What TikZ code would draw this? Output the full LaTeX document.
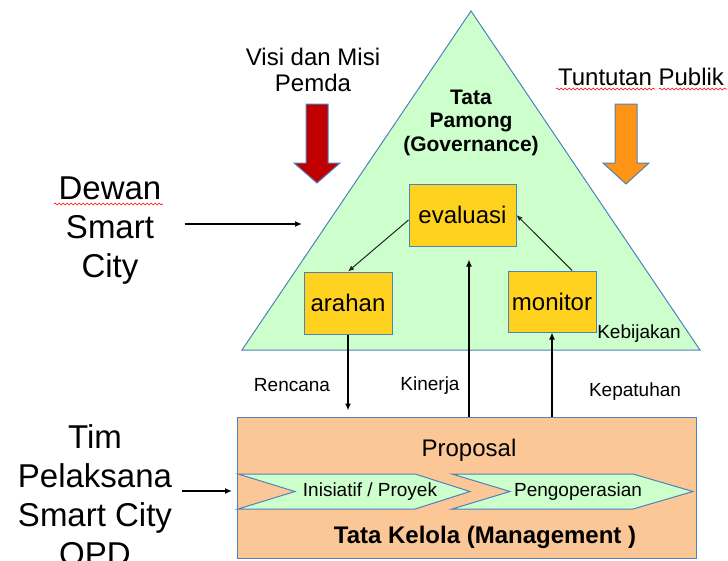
\documentclass[tikz,border=0pt]{standalone}
\usepackage{fontspec}
\setmainfont{Liberation Sans}
\usetikzlibrary{arrows.meta, positioning, decorations.pathmorphing}
\definecolor{tpgreen}{RGB}{204, 255, 204}
\definecolor{tpblue}{RGB}{79, 129, 189}
\definecolor{tpyellow}{RGB}{255, 210, 32}
\definecolor{tkpeach}{RGB}{252, 199, 150}
\definecolor{tpred}{RGB}{192, 0, 0}
\definecolor{tporange}{RGB}{255, 147, 20}

\begin{document}
\begin{tikzpicture}[x=1pt, y=-1pt, every node/.style={inner sep=0pt},
  ybox/.style={draw=tpblue, line width=1pt, fill=tpyellow, font=\fontsize{24}{28}\selectfont},
  chev/.style={draw=tpblue, line width=1pt, fill=tpgreen},
  flow/.style={-{Latex[length=7pt, width=6pt]}, line width=1.7pt},
  thinflow/.style={-{Latex[length=6pt, width=5pt]}, line width=1pt, black!85},
  lbl/.style={font=\fontsize{19}{22}\selectfont},
  bigtxt/.style={align=center, font=\fontsize{33}{39}\selectfont},
  spell/.style={red, line width=0.6pt, decorate, decoration={snake, amplitude=0.9pt, segment length=4pt}}]
  \useasboundingbox (0,0) rectangle (728,560);

  % Governance triangle
  \draw[tpblue, line width=1pt, fill=tpgreen] (471,11) -- (700,350) -- (242,350) -- cycle;
  \node[align=center, font=\fontsize{21}{23.5}\selectfont\bfseries] (pamong) at (471,122.5) {Tata\\Pamong\\(Governance)};
  \node[lbl] (kebijakan) at (639,334) {Kebijakan};

  % Inputs from above
  \node[align=center, font=\fontsize{24}{26.5}\selectfont] (visi) at (313,70) {Visi dan Misi\\Pemda};
  \draw[tpblue, line width=1pt, fill=tpred]
    (306,104) -- (328,104) -- (328,163) -- (340,163) -- (317,183) -- (294,163) -- (306,163) -- cycle;
  \node[font=\fontsize{24}{28}\selectfont] (tuntutan) at (641,77) {Tuntutan Publik};
  \draw[tpblue, line width=1pt, fill=tporange]
    (615,104) -- (637,104) -- (637,163) -- (649,163) -- (626,184) -- (603,163) -- (615,163) -- cycle;
  \draw[spell] (556,89) -- (655,89);
  \draw[spell] (659,89) -- (727,89);

  % Boxes inside the triangle
  \node[ybox, minimum width=107pt, minimum height=62pt] (evaluasi) at (462.5,215) {evaluasi};
  \node[ybox, minimum width=88pt, minimum height=62pt] (arahan) at (348,303) {arahan};
  \node[ybox, minimum width=88pt, minimum height=61pt] (monitor) at (552,301.5) {monitor};
  \draw[thinflow] ([yshift=-5pt]evaluasi.west) -- (arahan.north);
  \draw[thinflow] (monitor.57) -- (evaluasi.east);

  % Management box
  \node[draw=tpblue, line width=1pt, fill=tkpeach, minimum width=459pt, minimum height=141pt] (mgmt) at (466.5,487.5) {};
  \node[font=\fontsize{24}{28}\selectfont] (proposal) at (469,450) {Proposal};
  \draw[chev] (238,474) -- (415,474) -- (470,491.5) -- (415,509) -- (238,509) -- (295,491.5) -- cycle;
  \draw[chev] (452,474) -- (633,474) -- (693,491.5) -- (633,509) -- (452,509) -- (510,491.5) -- cycle;
  \node[lbl] (inisiatif) at (370,492) {Inisiatif / Proyek};
  \node[lbl] (operasi) at (578,492) {Pengoperasian};
  \node[font=\fontsize{24}{28}\selectfont\bfseries] (kelola) at (485,537) {Tata Kelola (Management )};

  % Flows between the two levels
  \draw[flow, shorten >=6pt] (arahan.south) -- (arahan.south |- mgmt.north);
  \draw[flow, shorten >=13pt] ([xshift=2.5pt]mgmt.north) -- ([xshift=6.5pt]evaluasi.south);
  \draw[flow] (monitor.south |- mgmt.north) -- (monitor.south);
  \node[lbl] (rencana) at (292,385) {Rencana};
  \node[lbl] (kinerja) at (430,386) {Kinerja};
  \node[lbl] (kepatuhan) at (635,392) {Kepatuhan};

  % Actors on the left
  \node[bigtxt] (dewan) at (110,231) {Dewan\\Smart\\City};
  \draw[spell] (54,204) -- (163,204);
  \coordinate (dewanend) at (302,224);
  \draw[flow, shorten <=23pt] (dewan.east |- dewanend) -- (dewanend);
  \node[bigtxt] (tim) at (95,495) {Tim\\Pelaksana\\Smart City\\OPD};
  \coordinate (timend) at (232,491);
  \draw[flow, shorten <=10pt] (tim.east |- timend) -- (timend);
\end{tikzpicture}
\end{document}
